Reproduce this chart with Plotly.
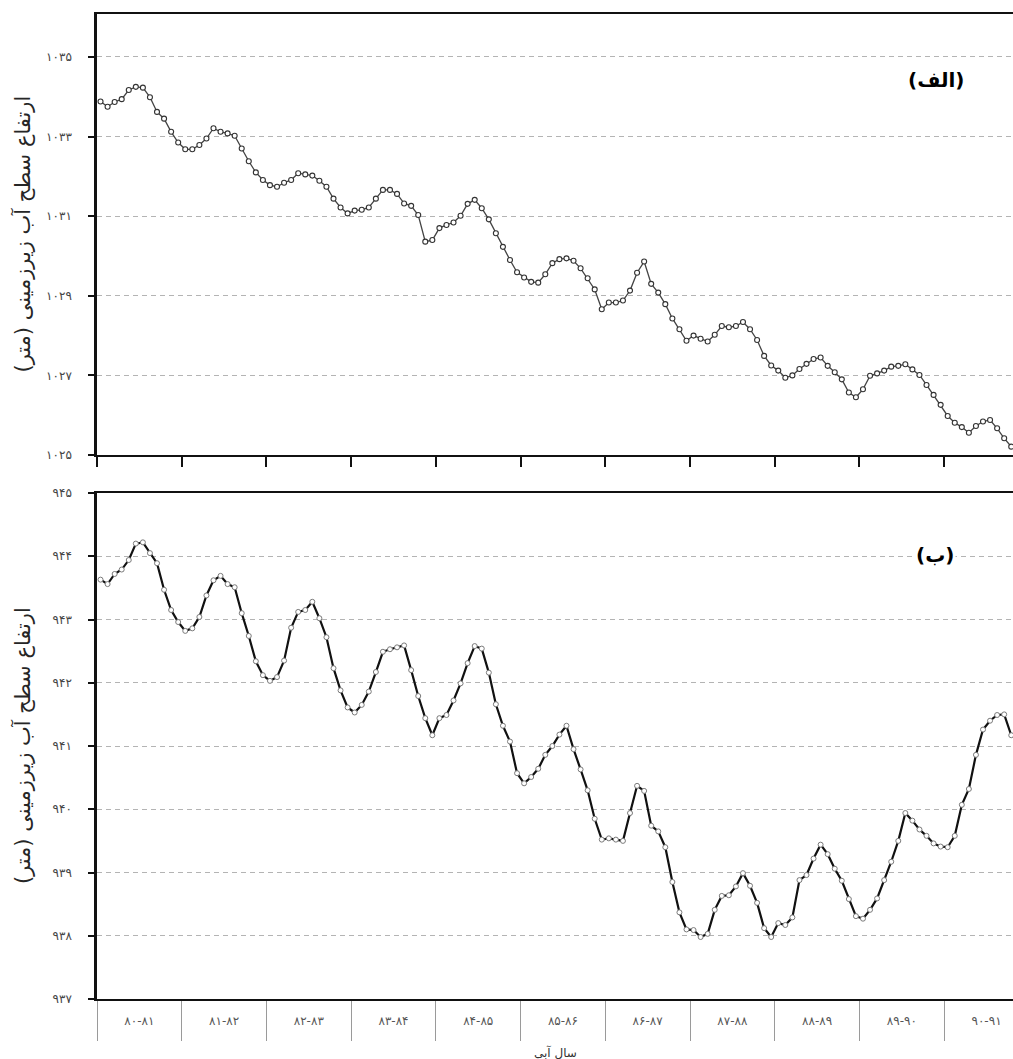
import plotly.graph_objects as go

# ---------------- data ----------------
water_years = ["۸۰-۸۱", "۸۱-۸۲", "۸۲-۸۳", "۸۳-۸۴", "۸۴-۸۵", "۸۵-۸۶",
               "۸۶-۸۷", "۸۷-۸۸", "۸۸-۸۹", "۸۹-۹۰", "۹۰-۹۱"]

# (الف) monthly groundwater level, metres
level_a = [
    1033.88, 1033.75, 1033.87, 1033.94, 1034.17, 1034.25, 1034.23, 1033.99, 1033.62, 1033.45, 1033.12, 1032.85,
    1032.68, 1032.68, 1032.79, 1032.95, 1033.21, 1033.12, 1033.08, 1033.02, 1032.70, 1032.38, 1032.10, 1031.91,
    1031.78, 1031.74, 1031.84, 1031.91, 1032.08, 1032.05, 1032.02, 1031.89, 1031.74, 1031.44, 1031.22, 1031.07,
    1031.14, 1031.16, 1031.22, 1031.44, 1031.66, 1031.66, 1031.56, 1031.32, 1031.26, 1031.03, 1030.36, 1030.40,
    1030.70, 1030.78, 1030.84, 1031.01, 1031.31, 1031.41, 1031.20, 1030.92, 1030.57, 1030.23, 1029.90, 1029.59,
    1029.46, 1029.35, 1029.33, 1029.54, 1029.82, 1029.92, 1029.94, 1029.88, 1029.69, 1029.44, 1029.16, 1028.66,
    1028.83, 1028.83, 1028.88, 1029.13, 1029.58, 1029.86, 1029.30, 1029.08, 1028.79, 1028.43, 1028.16, 1027.87,
    1028.00, 1027.92, 1027.85, 1028.02, 1028.24, 1028.21, 1028.24, 1028.34, 1028.16, 1027.89, 1027.49, 1027.25,
    1027.12, 1026.94, 1027.00, 1027.16, 1027.29, 1027.41, 1027.45, 1027.24, 1027.08, 1026.90, 1026.57, 1026.45,
    1026.65, 1026.99, 1027.05, 1027.12, 1027.22, 1027.24, 1027.28, 1027.15, 1027.01, 1026.76, 1026.51, 1026.26,
    1025.98, 1025.81, 1025.70, 1025.56, 1025.73, 1025.84, 1025.88, 1025.67, 1025.42, 1025.21,
]

# (ب) monthly groundwater level, metres
level_b = [
    943.63, 943.56, 943.72, 943.79, 943.94, 944.20, 944.22, 944.05, 943.89, 943.47, 943.15, 942.96,
    942.82, 942.86, 943.04, 943.38, 943.62, 943.69, 943.56, 943.51, 943.10, 942.74, 942.34, 942.12,
    942.03, 942.09, 942.35, 942.87, 943.12, 943.15, 943.28, 943.02, 942.72, 942.23, 941.88, 941.61,
    941.53, 941.65, 941.86, 942.17, 942.49, 942.53, 942.56, 942.59, 942.20, 941.79, 941.44, 941.17,
    941.44, 941.49, 941.72, 941.99, 942.31, 942.58, 942.54, 942.16, 941.66, 941.32, 941.07, 940.57,
    940.41, 940.51, 940.64, 940.86, 941.00, 941.18, 941.32, 940.95, 940.63, 940.30, 939.85, 939.52,
    939.54, 939.52, 939.50, 939.94, 940.37, 940.29, 939.74, 939.65, 939.40, 938.85, 938.37, 938.10,
    938.09, 937.98, 938.03, 938.41, 938.63, 938.64, 938.78, 938.99, 938.79, 938.52, 938.12, 937.98,
    938.20, 938.17, 938.29, 938.88, 938.96, 939.22, 939.44, 939.29, 939.06, 938.87, 938.58, 938.31,
    938.27, 938.41, 938.59, 938.88, 939.17, 939.50, 939.94, 939.82, 939.68, 939.58, 939.46, 939.41,
    939.40, 939.58, 940.07, 940.32, 940.86, 941.26, 941.40, 941.49, 941.50, 941.17,
]

ticks_a = [1025, 1027, 1029, 1031, 1033, 1035]
ticklabels_a = ["۱۰۲۵", "۱۰۲۷", "۱۰۲۹", "۱۰۳۱", "۱۰۳۳", "۱۰۳۵"]
ticks_b = [937, 938, 939, 940, 941, 942, 943, 944, 945]
ticklabels_b = ["۹۳۷", "۹۳۸", "۹۳۹", "۹۴۰", "۹۴۱", "۹۴۲", "۹۴۳", "۹۴۴", "۹۴۵"]

y_title = "ارتفاع سطح آب زیرزمینی (متر)"
x_title = "سال آبی"
label_a = "(الف)"
label_b = "(ب)"

# ---------------- positions on the month scale ----------------
months_per_year = 12
x_a = [i + 0.5 for i in range(len(level_a))]
x_b = [i + 0.5 for i in range(len(level_b))]
year_bounds = [k * months_per_year for k in range(len(water_years))]
year_centers = [k * months_per_year + months_per_year / 2 for k in range(len(water_years))]

FONT = "DejaVu Sans"
GRID = dict(showgrid=True, gridcolor="#b4b4b4", gridwidth=1, griddash="5px,4px")

fig = go.Figure()
fig.add_trace(go.Scatter(
    x=x_a, y=level_a, mode="lines+markers", xaxis="x", yaxis="y",
    line=dict(color="#444444", width=1.3),
    marker=dict(symbol="circle", size=5, color="white", line=dict(color="#333333", width=1.1)),
    showlegend=False,
))
fig.add_trace(go.Scatter(
    x=x_b, y=level_b, mode="lines+markers", xaxis="x2", yaxis="y2",
    line=dict(color="#111111", width=2.2),
    marker=dict(symbol="circle", size=5, color="white", line=dict(color="#7a7a7a", width=1)),
    showlegend=False,
))

xrange = [0, 129.75]
top_dom = [0.5523, 1.0]
bot_dom = [0.0, 0.5137]

fig.update_layout(
    width=1013, height=1059,
    margin=dict(l=97, r=0, t=14, b=60),
    paper_bgcolor="white", plot_bgcolor="white",
    font=dict(family=FONT, color="#333333", size=10),
    xaxis=dict(
        domain=[0, 1], anchor="y", range=xrange,
        tickmode="array", tickvals=year_bounds, showticklabels=False,
        ticks="outside", ticklen=10, tickwidth=1.5, tickcolor="#111111",
        showline=True, linecolor="#111111", linewidth=2, mirror=True,
        showgrid=False, zeroline=False,
    ),
    yaxis=dict(
        domain=top_dom, anchor="x", range=[1025, 1036.08],
        tickmode="array", tickvals=ticks_a, ticktext=ticklabels_a,
        ticks="outside", ticklen=6, tickwidth=1.5, tickcolor="#111111",
        ticklabelstandoff=14, tickfont=dict(size=12, color="#444444"),
        showline=True, linecolor="#111111", linewidth=2.5,
        zeroline=False, **GRID,
    ),
    xaxis2=dict(
        domain=[0, 1], anchor="y2", range=xrange,
        tickmode="array", tickvals=year_centers, ticktext=water_years,
        ticks="", ticklabelstandoff=10, tickfont=dict(size=12, color="#555555"),
        minor=dict(tickmode="array", tickvals=year_bounds, ticks="outside",
                   ticklen=40, tickwidth=1, tickcolor="#9a9a9a", showgrid=False),
        showline=True, linecolor="#111111", linewidth=2, mirror=True,
        showgrid=False, zeroline=False,
    ),
    yaxis2=dict(
        domain=bot_dom, anchor="x2", range=[937, 945],
        tickmode="array", tickvals=ticks_b, ticktext=ticklabels_b,
        ticks="outside", ticklen=6, tickwidth=1.5, tickcolor="#111111",
        ticklabelstandoff=14, tickfont=dict(size=12, color="#444444"),
        showline=True, linecolor="#111111", linewidth=2.5,
        zeroline=False, **GRID,
    ),
)

annotations = [
    dict(text=y_title, xref="paper", yref="paper", x=0, xshift=-75,
         y=(top_dom[0] + top_dom[1]) / 2, textangle=-90, showarrow=False,
         font=dict(family=FONT, size=21, color="#262626"), xanchor="center", yanchor="middle"),
    dict(text=y_title, xref="paper", yref="paper", x=0, xshift=-75,
         y=(bot_dom[0] + bot_dom[1]) / 2, textangle=-90, showarrow=False,
         font=dict(family=FONT, size=21, color="#262626"), xanchor="center", yanchor="middle"),
    dict(text=f"<b>{label_a}</b>", xref="paper", yref="paper", x=0.9155, y=0.9335,
         showarrow=False, font=dict(family=FONT, size=20, color="#000000"),
         xanchor="center", yanchor="middle", bgcolor="white"),
    dict(text=f"<b>{label_b}</b>", xref="paper", yref="paper", x=0.9145, y=0.4503,
         showarrow=False, font=dict(family=FONT, size=20, color="#000000"),
         xanchor="center", yanchor="middle", bgcolor="white"),
    dict(text=x_title, xref="paper", yref="paper", x=0.5, y=0, yshift=-53,
         showarrow=False, font=dict(family=FONT, size=12, color="#333333"),
         xanchor="center", yanchor="middle"),
]
fig.update_layout(annotations=annotations)

fig.write_html(
    "out.html",
    config={"displayModeBar": False},
    post_script="document.body.style.margin='0';document.body.style.overflow='hidden';",
)
